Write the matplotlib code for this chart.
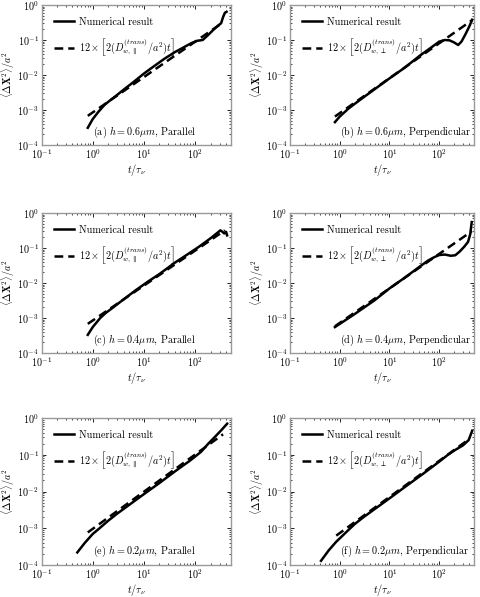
import matplotlib
matplotlib.use("Agg")
import matplotlib.pyplot as plt

plt.rcParams['font.family'] = 'serif'
plt.rcParams['font.serif'] = ['cmr10', 'DejaVu Serif']
plt.rcParams['mathtext.fontset'] = 'cm'
plt.rcParams['axes.formatter.use_mathtext'] = True
plt.rcParams['axes.unicode_minus'] = True

# ---- data ----
t_a = [0.8, 1.0, 1.3, 1.7, 2.2, 3, 4, 6, 10, 15, 25, 40, 60, 85, 110, 140, 180, 230, 290, 320, 350, 380, 410]
y_a = [3.1e-4, 5.5e-4, 9e-4, 1.4e-3, 1.9e-3, 2.7e-3, 3.8e-3, 6e-3, 1.1e-2, 1.7e-2, 2.9e-2, 4.5e-2,
       6.2e-2, 8.2e-2, 9.5e-2, 1.0e-1, 1.4e-1, 2.0e-1, 2.7e-1, 3.0e-1, 4.5e-1, 6.0e-1, 6.4e-1]
td_a = [0.8, 330]
yd_a = [6.8e-4, 3.0e-1]

t_b = [0.8, 1.0, 1.5, 2, 3, 5, 10, 20, 40, 70, 100, 130, 160, 200, 240, 280, 340, 400, 460]
y_b = [4.5e-4, 6.5e-4, 1.1e-3, 1.5e-3, 2.3e-3, 3.9e-3, 8e-3, 1.6e-2, 3.5e-2, 6.2e-2, 9.0e-2,
       1.0e-1, 9.8e-2, 8.5e-2, 7.2e-2, 9e-2, 1.5e-1, 2.4e-1, 3.8e-1]
td_b = [0.8, 460]
yd_b = [6.5e-4, 3.7e-1]

t_c = [0.8, 1.0, 1.4, 1.8, 2.5, 4, 7, 12, 20, 40, 70, 120, 200, 270, 310, 340, 370, 400, 420]
y_c = [3.3e-4, 5.5e-4, 1.0e-3, 1.4e-3, 2.0e-3, 3.4e-3, 6.3e-3, 1.1e-2, 1.8e-2, 3.8e-2, 6.5e-2,
       1.1e-1, 1.9e-1, 2.7e-1, 3.2e-1, 2.9e-1, 2.6e-1, 2.9e-1, 2.3e-1]
td_c = [0.8, 380]
yd_c = [6.8e-4, 3.2e-1]

t_d = [0.8, 2, 5, 10, 20, 40, 60, 80, 100, 130, 170, 210, 260, 320, 380, 420, 450]
y_d = [5.5e-4, 1.3e-3, 3.2e-3, 7e-3, 1.4e-2, 2.9e-2, 4.4e-2, 5.5e-2, 6.3e-2, 6.5e-2, 6.0e-2,
       6.2e-2, 8e-2, 1.1e-1, 1.5e-1, 2.5e-1, 5.5e-1]
td_d = [0.8, 450]
yd_d = [5.8e-4, 3.0e-1]

t_e = [0.5, 0.7, 1.0, 1.3, 2, 3, 5, 10, 20, 40, 80, 130, 180, 250, 330, 420]
y_e = [2.2e-4, 4e-4, 7e-4, 9.5e-4, 1.6e-3, 2.5e-3, 4.2e-3, 8.5e-3, 1.7e-2, 3.5e-2, 7e-2,
       1.2e-1, 2.0e-1, 3.2e-1, 4.8e-1, 7e-1]
td_e = [0.8, 350]
yd_e = [7.7e-4, 3.6e-1]

t_f = [0.42, 0.6, 0.85, 1.0, 1.5, 2, 3, 5, 10, 20, 50, 100, 150, 200, 300, 390, 460]
y_f = [1.3e-4, 2.5e-4, 4.3e-4, 5.3e-4, 9e-4, 1.3e-3, 2e-3, 3.3e-3, 6.5e-3, 1.3e-2, 3.2e-2,
       6.5e-2, 1.0e-1, 1.3e-1, 1.8e-1, 2.5e-1, 4.5e-1]
td_f = [0.85, 390]
yd_f = [6.3e-4, 2.6e-1]

panel_labels = [r"(a) $h=0.6\mu m$, Parallel",
                r"(b) $h=0.6\mu m$, Perpendicular",
                r"(c) $h=0.4\mu m$, Parallel",
                r"(d) $h=0.4\mu m$, Perpendicular",
                r"(e) $h=0.2\mu m$, Parallel",
                r"(f) $h=0.2\mu m$, Perpendicular"]
legend_solid = "Numerical result"
legend_par = r"$12\times\left[2(D^{(trans)}_{w,\parallel}/a^2)t\right]$"
legend_perp = r"$12\times\left[2(D^{(trans)}_{w,\perp}/a^2)t\right]$"

solids = [(t_a, y_a), (t_b, y_b), (t_c, y_c), (t_d, y_d), (t_e, y_e), (t_f, y_f)]
dashes = [(td_a, yd_a), (td_b, yd_b), (td_c, yd_c), (td_d, yd_d), (td_e, yd_e), (td_f, yd_f)]

W, H = 481, 597
fig = plt.figure(figsize=(W / 100, H / 100), dpi=100)

cols = [(41.5, 189.5), (290, 184)]
rows = [(5, 145), (213, 353), (418, 565)]

fs = 7.3
for i in range(6):
    r, c = divmod(i, 2)
    x0, w = cols[c]
    top, bot = rows[r]
    ax = fig.add_axes([x0 / W, 1 - bot / H, w / W, (bot - top) / H])
    ts, ys = solids[i]
    td, yd = dashes[i]
    ax.plot(ts, ys, color='black', lw=1.8, ls='-', label=legend_solid)
    ax.plot(td, yd, color='black', lw=1.8, ls=(0, (3.5, 2.0)),
            label=legend_par if c == 0 else legend_perp)
    ax.set_xscale('log')
    ax.set_yscale('log')
    ax.set_xlim(1e-1, 5e2)
    ax.set_ylim(1e-4, 1e0)
    ax.set_xticks([1e-1, 1e0, 1e1, 1e2])
    ax.set_yticks([1e-4, 1e-3, 1e-2, 1e-1, 1e0])
    for s in ax.spines.values():
        s.set_color('#999999')
        s.set_linewidth(1.0)
    ax.tick_params(which='both', direction='in', top=True, right=True, labelsize=fs,
                   colors='black', pad=2.0)
    ax.tick_params(which='major', length=3, width=0.6)
    ax.tick_params(which='minor', length=1.5, width=0.5)
    ax.set_xlabel(r"$t/\tau_\nu$", fontsize=fs, labelpad=0.5)
    ax.set_ylabel(r"$\langle\Delta\mathbf{X}^2\rangle/a^2$", fontsize=fs, labelpad=0)
    ax.text(0.27, 0.09, panel_labels[i], transform=ax.transAxes, fontsize=fs,
            ha='left', va='center')
    ax.legend(loc='upper left', frameon=False, fontsize=fs, handlelength=2.0,
              labelspacing=0.9, borderaxespad=0.5, borderpad=0.7, handletextpad=0.45)

fig.savefig("out.png", dpi=100)
